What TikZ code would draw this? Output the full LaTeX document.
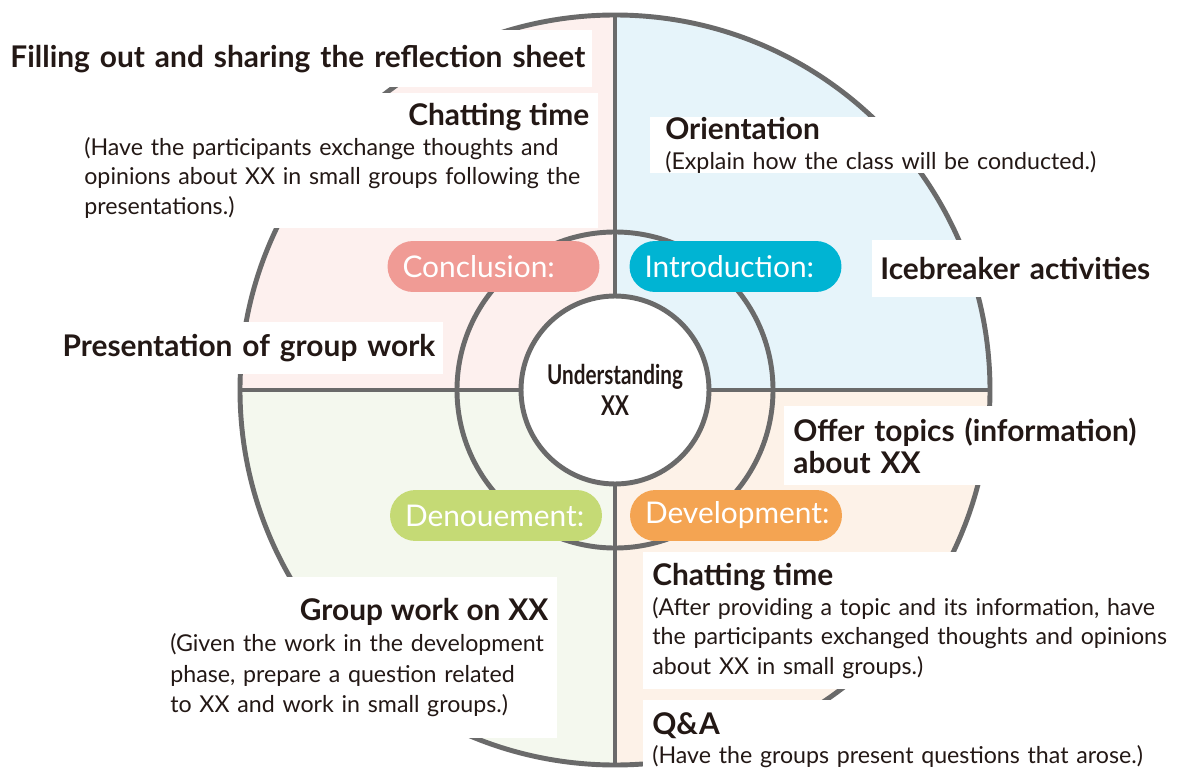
\documentclass[tikz,border=0pt]{standalone}
\usepackage{fontspec}
\setmainfont{Lato}
\newfontfamily\narrowfont[FakeStretch=0.76]{Lato}
\usepackage{tikz}
\definecolor{ink}{HTML}{231815}
\definecolor{rim}{HTML}{6A6A6A}
\definecolor{pinkq}{HTML}{FDF0EE}
\definecolor{blueq}{HTML}{E6F4FA}
\definecolor{peachq}{HTML}{FDF2E8}
\definecolor{greenq}{HTML}{F4F8EE}
\definecolor{concl}{HTML}{F09B95}
\definecolor{intro}{HTML}{00B4D3}
\definecolor{denou}{HTML}{C5DA75}
\definecolor{devel}{HTML}{F4A452}
\newcommand{\ttl}{\bfseries\fontsize{17}{18.5}\selectfont}
\newcommand{\bdy}{\fontsize{13.2}{16.8}\selectfont}

\begin{document}
\begin{tikzpicture}[x=0.02cm,y=0.02cm,
  ring/.style={draw=rim,line width=2.8pt},
  wbox/.style={fill=white,text=ink,inner ysep=0pt,anchor=north west,align=left,font=\bdy},
  pill/.style={rounded corners=0.51cm,text=white,minimum height=1.02cm,text width=3.64cm,inner xsep=0.3cm,align=left,font=\fontsize{17}{19}\selectfont}]
\useasboundingbox (0,0) rectangle (1191,769);
\coordinate (o) at (615,379);
\foreach \col/\a in {blueq/0,pinkq/90,greenq/180,peachq/270}
  \fill[\col] (o) -- ++(\a:375) arc[start angle=\a,delta angle=90,radius=375] -- cycle;
\draw[ring] (615,754) -- (615,4);
\draw[ring] (240,379) -- (990,379);
\draw[ring] (o) circle[radius=158];
\draw[ring] (o) circle[radius=375];
\node[circle,ring,fill=white,minimum size=3.76cm,inner sep=0pt,align=center,text=ink,font=\narrowfont\bfseries\fontsize{15.5}{18}\selectfont] (core) at (o) {Understanding\\XX};

\node[wbox,inner xsep=0.14cm,text width=11.56cm,minimum height=1.14cm,align=right,font=\ttl] (refl) at (0,739) {Filling out and sharing the reflection sheet};
\node[wbox,inner xsep=0.18cm,text width=10.1cm,minimum height=2.7cm] (chatA) at (75,676) {{\raggedleft\ttl Chatting time\par}(Have the participants exchange thoughts and\\opinions about XX in small groups following the\\presentations.)};
\node[wbox,inner xsep=0.3cm,text width=9.2cm,minimum height=1.06cm] (orient) at (650,652) {{\ttl Orientation}\\(Explain how the class will be conducted.)};
\node[wbox,inner xsep=0.16cm,text width=6cm,minimum height=1.14cm,font=\ttl] (ice) at (872,529) {Icebreaker activities};
\node[wbox,inner xsep=0.16cm,text width=7.74cm,minimum height=1.04cm,align=right,font=\ttl] (pres) at (40,447) {Presentation of group work};
\node[wbox,inner xsep=0.18cm,text width=7.6cm,minimum height=1.58cm,font=\ttl] (offer) at (784,363) {Offer topics (information)\\about XX};
\node[wbox,inner xsep=0.18cm,text width=10.8cm,minimum height=2.74cm] (chatB) at (643,217) {{\ttl Chatting time}\\(After providing a topic and its information, have\\the participants exchanged thoughts and opinions\\about XX in small groups.)};
\node[wbox,inner xsep=0.18cm,text width=10.8cm,minimum height=1.6cm] (qa) at (643,69) {{\ttl Q\&A}\\(Have the groups present questions that arose.)};
\node[wbox,inner xsep=0.18cm,text width=7.56cm,minimum height=3.22cm,font=\fontsize{13.2}{17.5}\selectfont] (group) at (161,192) {{\raggedleft\ttl Group work on XX\par}(Given the work in the development\\phase, prepare a question related\\to XX and work in small groups.)};

\node[pill,fill=concl] (conc) at (493.5,502.5) {Conclusion:};
\node[pill,fill=intro] (intr) at (735.5,502.5) {Introduction:};
\node[pill,fill=denou] (deno) at (496,253.5) {Denouement:};
\node[pill,fill=devel] (dev) at (736,253.5) {Development:};
\end{tikzpicture}
\end{document}
